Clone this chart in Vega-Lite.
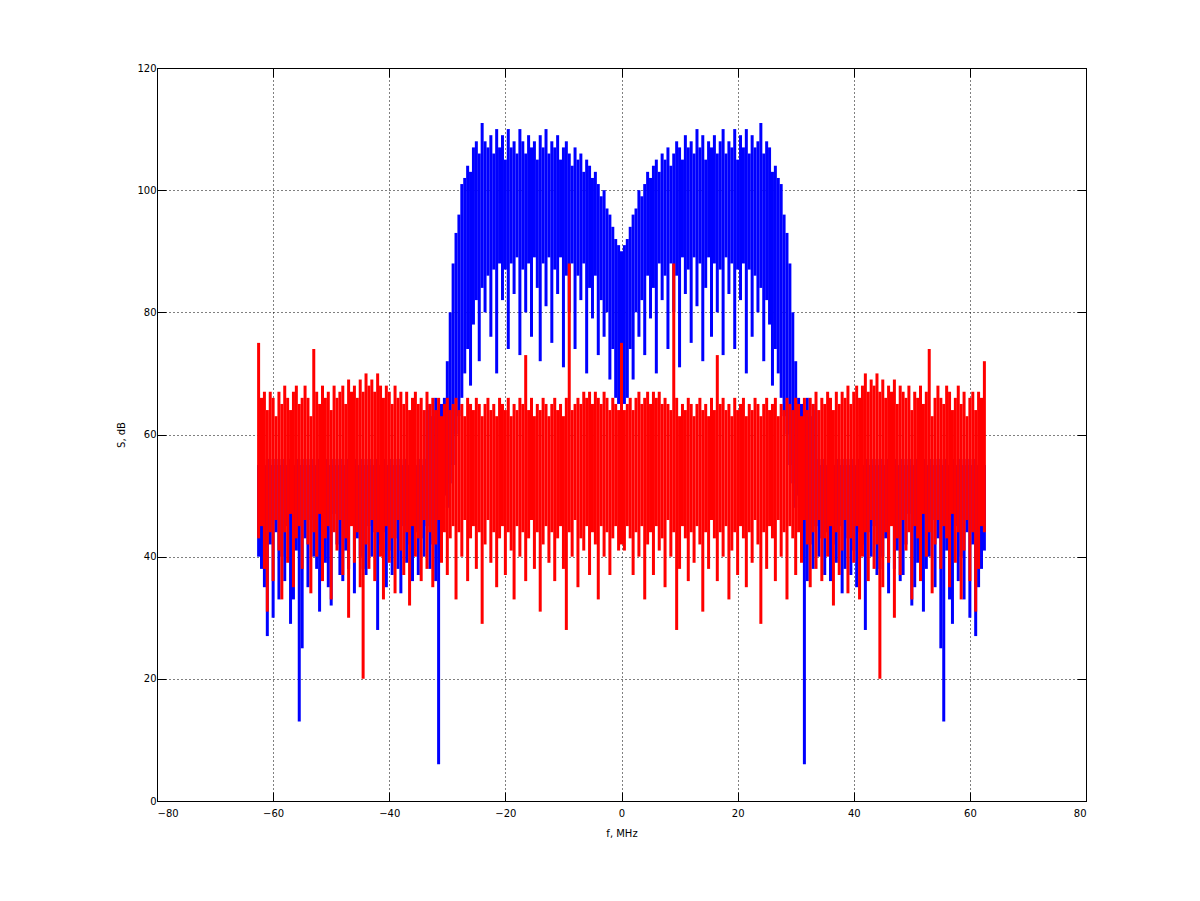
{
  "$schema": "https://vega.github.io/schema/vega-lite/v6.json",
  "width": 929,
  "height": 733,
  "autosize": {"type": "none"},
  "padding": {"left": 157, "top": 68, "right": 114, "bottom": 100},
  "background": "white",
  "datasets": {
    "blue": [
      {"x":-62.5,"l":40,"h":55},{"x":-62,"l":38,"h":56},{"x":-61.5,"l":35,"h":55},{"x":-61,"l":27,"h":56},{"x":-60.5,"l":42,"h":55},{"x":-60,"l":30,"h":56},{"x":-59.5,"l":44,"h":55},{"x":-59,"l":33,"h":56},{"x":-58.5,"l":40,"h":55},{"x":-58,"l":36,"h":56},
      {"x":-57.5,"l":45,"h":55},{"x":-57,"l":29,"h":56},{"x":-56.5,"l":33,"h":55},{"x":-56,"l":41,"h":56},{"x":-55.5,"l":13,"h":55},{"x":-55,"l":25,"h":56},{"x":-54.5,"l":43,"h":55},{"x":-54,"l":35,"h":56},{"x":-53.5,"l":46,"h":55},{"x":-53,"l":40,"h":56},
      {"x":-52.5,"l":38,"h":55},{"x":-52,"l":31,"h":56},{"x":-51.5,"l":44,"h":55},{"x":-51,"l":39,"h":56},{"x":-50.5,"l":35,"h":55},{"x":-50,"l":32,"h":56},{"x":-49.5,"l":47,"h":55},{"x":-49,"l":42,"h":56},{"x":-48.5,"l":37,"h":55},{"x":-48,"l":36,"h":56},
      {"x":-47.5,"l":41,"h":55},{"x":-47,"l":38,"h":56},{"x":-46.5,"l":46,"h":55},{"x":-46,"l":34,"h":56},{"x":-45.5,"l":43,"h":55},{"x":-45,"l":40,"h":56},{"x":-44.5,"l":38,"h":55},{"x":-44,"l":37,"h":56},{"x":-43.5,"l":45,"h":55},{"x":-43,"l":40,"h":56},
      {"x":-42.5,"l":44,"h":55},{"x":-42,"l":28,"h":56},{"x":-41.5,"l":42,"h":55},{"x":-41,"l":44,"h":56},{"x":-40.5,"l":35,"h":55},{"x":-40,"l":41,"h":56},{"x":-39.5,"l":37,"h":55},{"x":-39,"l":43,"h":56},{"x":-38.5,"l":38,"h":55},{"x":-38,"l":34,"h":56},
      {"x":-37.5,"l":45,"h":55},{"x":-37,"l":39,"h":56},{"x":-36.5,"l":42,"h":55},{"x":-36,"l":36,"h":56},{"x":-35.5,"l":44,"h":55},{"x":-35,"l":37,"h":56},{"x":-34.5,"l":43,"h":55},{"x":-34,"l":40,"h":56},{"x":-33.5,"l":45,"h":64},{"x":-33,"l":38,"h":65},
      {"x":-32.5,"l":42,"h":63},{"x":-32,"l":36,"h":66},{"x":-31.5,"l":6,"h":64},{"x":-31,"l":44,"h":65},{"x":-30.5,"l":50,"h":66},{"x":-30,"l":48,"h":72},{"x":-29.5,"l":52,"h":80},{"x":-29,"l":55,"h":88},{"x":-28.5,"l":60,"h":93},{"x":-28,"l":63,"h":96},
      {"x":-27.5,"l":66,"h":101},{"x":-27,"l":70,"h":102},{"x":-26.5,"l":74,"h":104},{"x":-26,"l":68,"h":103},{"x":-25.5,"l":78,"h":107},{"x":-25,"l":82,"h":108},{"x":-24.5,"l":72,"h":106},{"x":-24,"l":84,"h":111},{"x":-23.5,"l":80,"h":108},{"x":-23,"l":86,"h":107},
      {"x":-22.5,"l":76,"h":109},{"x":-22,"l":87,"h":106},{"x":-21.5,"l":70,"h":110},{"x":-21,"l":88,"h":107},{"x":-20.5,"l":82,"h":109},{"x":-20,"l":87,"h":105},{"x":-19.5,"l":74,"h":110},{"x":-19,"l":88,"h":107},{"x":-18.5,"l":83,"h":108},{"x":-18,"l":89,"h":106},
      {"x":-17.5,"l":73,"h":110},{"x":-17,"l":87,"h":108},{"x":-16.5,"l":80,"h":106},{"x":-16,"l":88,"h":109},{"x":-15.5,"l":76,"h":107},{"x":-15,"l":89,"h":108},{"x":-14.5,"l":84,"h":105},{"x":-14,"l":72,"h":109},{"x":-13.5,"l":88,"h":107},{"x":-13,"l":81,"h":110},
      {"x":-12.5,"l":89,"h":106},{"x":-12,"l":75,"h":108},{"x":-11.5,"l":87,"h":107},{"x":-11,"l":83,"h":109},{"x":-10.5,"l":89,"h":105},{"x":-10,"l":71,"h":107},{"x":-9.5,"l":86,"h":108},{"x":-9,"l":80,"h":106},{"x":-8.5,"l":88,"h":104},{"x":-8,"l":74,"h":107},
      {"x":-7.5,"l":86,"h":105},{"x":-7,"l":82,"h":106},{"x":-6.5,"l":88,"h":103},{"x":-6,"l":70,"h":105},{"x":-5.5,"l":84,"h":104},{"x":-5,"l":79,"h":102},{"x":-4.5,"l":86,"h":103},{"x":-4,"l":73,"h":101},{"x":-3.5,"l":82,"h":99},{"x":-3,"l":76,"h":100},
      {"x":-2.5,"l":80,"h":97},{"x":-2,"l":69,"h":96},{"x":-1.5,"l":74,"h":94},{"x":-1,"l":66,"h":92},{"x":-0.5,"l":65,"h":91},{"x":0,"l":66,"h":90},
      {"x":0.5,"l":65,"h":91},{"x":1,"l":66,"h":92},{"x":1.5,"l":74,"h":94},{"x":2,"l":69,"h":96},{"x":2.5,"l":80,"h":97},
      {"x":3,"l":76,"h":100},{"x":3.5,"l":82,"h":99},{"x":4,"l":73,"h":101},{"x":4.5,"l":86,"h":103},{"x":5,"l":79,"h":102},{"x":5.5,"l":84,"h":104},{"x":6,"l":70,"h":105},{"x":6.5,"l":88,"h":103},{"x":7,"l":82,"h":106},{"x":7.5,"l":86,"h":105},
      {"x":8,"l":74,"h":107},{"x":8.5,"l":88,"h":104},{"x":9,"l":80,"h":106},{"x":9.5,"l":86,"h":108},{"x":10,"l":71,"h":107},{"x":10.5,"l":89,"h":105},{"x":11,"l":83,"h":109},{"x":11.5,"l":87,"h":107},{"x":12,"l":75,"h":108},{"x":12.5,"l":89,"h":106},
      {"x":13,"l":81,"h":110},{"x":13.5,"l":88,"h":107},{"x":14,"l":72,"h":109},{"x":14.5,"l":84,"h":105},{"x":15,"l":89,"h":108},{"x":15.5,"l":76,"h":107},{"x":16,"l":88,"h":109},{"x":16.5,"l":80,"h":106},{"x":17,"l":87,"h":108},{"x":17.5,"l":73,"h":110},
      {"x":18,"l":89,"h":106},{"x":18.5,"l":83,"h":108},{"x":19,"l":88,"h":107},{"x":19.5,"l":74,"h":110},{"x":20,"l":87,"h":105},{"x":20.5,"l":82,"h":109},{"x":21,"l":88,"h":107},{"x":21.5,"l":70,"h":110},{"x":22,"l":87,"h":106},{"x":22.5,"l":76,"h":109},
      {"x":23,"l":86,"h":107},{"x":23.5,"l":80,"h":108},{"x":24,"l":84,"h":111},{"x":24.5,"l":72,"h":106},{"x":25,"l":82,"h":108},{"x":25.5,"l":78,"h":107},{"x":26,"l":68,"h":103},{"x":26.5,"l":74,"h":104},{"x":27,"l":70,"h":102},{"x":27.5,"l":66,"h":101},
      {"x":28,"l":63,"h":96},{"x":28.5,"l":60,"h":93},{"x":29,"l":55,"h":88},{"x":29.5,"l":52,"h":80},{"x":30,"l":48,"h":72},{"x":30.5,"l":50,"h":66},{"x":31,"l":44,"h":65},{"x":31.5,"l":6,"h":64},{"x":32,"l":36,"h":66},{"x":32.5,"l":42,"h":63},
      {"x":33,"l":38,"h":65},{"x":33.5,"l":45,"h":64},{"x":34,"l":40,"h":56},{"x":34.5,"l":43,"h":55},{"x":35,"l":37,"h":56},{"x":35.5,"l":44,"h":55},{"x":36,"l":36,"h":56},{"x":36.5,"l":42,"h":55},{"x":37,"l":39,"h":56},{"x":37.5,"l":45,"h":55},
      {"x":38,"l":34,"h":56},{"x":38.5,"l":38,"h":55},{"x":39,"l":43,"h":56},{"x":39.5,"l":37,"h":55},{"x":40,"l":41,"h":56},{"x":40.5,"l":35,"h":55},{"x":41,"l":44,"h":56},{"x":41.5,"l":42,"h":55},{"x":42,"l":28,"h":56},{"x":42.5,"l":44,"h":55},
      {"x":43,"l":40,"h":56},{"x":43.5,"l":45,"h":55},{"x":44,"l":37,"h":56},{"x":44.5,"l":38,"h":55},{"x":45,"l":40,"h":56},{"x":45.5,"l":43,"h":55},{"x":46,"l":34,"h":56},{"x":46.5,"l":46,"h":55},{"x":47,"l":38,"h":56},{"x":47.5,"l":41,"h":55},
      {"x":48,"l":36,"h":56},{"x":48.5,"l":37,"h":55},{"x":49,"l":42,"h":56},{"x":49.5,"l":47,"h":55},{"x":50,"l":32,"h":56},{"x":50.5,"l":35,"h":55},{"x":51,"l":39,"h":56},{"x":51.5,"l":44,"h":55},{"x":52,"l":31,"h":56},{"x":52.5,"l":38,"h":55},
      {"x":53,"l":40,"h":56},{"x":53.5,"l":46,"h":55},{"x":54,"l":35,"h":56},{"x":54.5,"l":43,"h":55},{"x":55,"l":25,"h":56},{"x":55.5,"l":13,"h":55},{"x":56,"l":41,"h":56},{"x":56.5,"l":33,"h":55},{"x":57,"l":29,"h":56},{"x":57.5,"l":45,"h":55},
      {"x":58,"l":36,"h":56},{"x":58.5,"l":40,"h":55},{"x":59,"l":33,"h":56},{"x":59.5,"l":44,"h":55},{"x":60,"l":30,"h":56},{"x":60.5,"l":42,"h":55},{"x":61,"l":27,"h":56},{"x":61.5,"l":35,"h":55},{"x":62,"l":38,"h":56},{"x":62.5,"l":41,"h":55}
    ],
    "red": [
      {"x":-62.5,"l":43,"h":75},{"x":-62,"l":45,"h":66},{"x":-61.5,"l":38,"h":67},{"x":-61,"l":31,"h":64},{"x":-60.5,"l":44,"h":67},{"x":-60,"l":36,"h":66},{"x":-59.5,"l":46,"h":63},{"x":-59,"l":41,"h":67},{"x":-58.5,"l":33,"h":65},{"x":-58,"l":44,"h":68},
      {"x":-57.5,"l":39,"h":66},{"x":-57,"l":47,"h":64},{"x":-56.5,"l":35,"h":67},{"x":-56,"l":43,"h":68},{"x":-55.5,"l":45,"h":65},{"x":-55,"l":38,"h":66},{"x":-54.5,"l":46,"h":68},{"x":-54,"l":42,"h":66},{"x":-53.5,"l":34,"h":63},{"x":-53,"l":44,"h":74},
      {"x":-52.5,"l":40,"h":67},{"x":-52,"l":47,"h":65},{"x":-51.5,"l":36,"h":68},{"x":-51,"l":43,"h":66},{"x":-50.5,"l":45,"h":67},{"x":-50,"l":33,"h":64},{"x":-49.5,"l":44,"h":68},{"x":-49,"l":41,"h":66},{"x":-48.5,"l":46,"h":67},{"x":-48,"l":37,"h":68},
      {"x":-47.5,"l":43,"h":65},{"x":-47,"l":30,"h":69},{"x":-46.5,"l":45,"h":67},{"x":-46,"l":39,"h":68},{"x":-45.5,"l":44,"h":66},{"x":-45,"l":35,"h":69},{"x":-44.5,"l":20,"h":67},{"x":-44,"l":42,"h":70},{"x":-43.5,"l":38,"h":68},{"x":-43,"l":46,"h":69},
      {"x":-42.5,"l":36,"h":67},{"x":-42,"l":44,"h":70},{"x":-41.5,"l":40,"h":68},{"x":-41,"l":33,"h":66},{"x":-40.5,"l":45,"h":68},{"x":-40,"l":39,"h":67},{"x":-39.5,"l":43,"h":65},{"x":-39,"l":34,"h":68},{"x":-38.5,"l":46,"h":66},{"x":-38,"l":41,"h":67},
      {"x":-37.5,"l":37,"h":65},{"x":-37,"l":44,"h":67},{"x":-36.5,"l":32,"h":64},{"x":-36,"l":45,"h":66},{"x":-35.5,"l":40,"h":67},{"x":-35,"l":43,"h":65},{"x":-34.5,"l":36,"h":66},{"x":-34,"l":46,"h":64},{"x":-33.5,"l":38,"h":67},{"x":-33,"l":44,"h":65},
      {"x":-32.5,"l":35,"h":66},{"x":-32,"l":42,"h":64},{"x":-31.5,"l":46,"h":66},{"x":-31,"l":39,"h":63},{"x":-30.5,"l":44,"h":65},{"x":-30,"l":37,"h":66},{"x":-29.5,"l":43,"h":64},{"x":-29,"l":45,"h":65},{"x":-28.5,"l":33,"h":66},{"x":-28,"l":44,"h":64},
      {"x":-27.5,"l":40,"h":65},{"x":-27,"l":46,"h":63},{"x":-26.5,"l":36,"h":66},{"x":-26,"l":43,"h":65},{"x":-25.5,"l":45,"h":64},{"x":-25,"l":38,"h":66},{"x":-24.5,"l":44,"h":65},{"x":-24,"l":29,"h":63},{"x":-23.5,"l":42,"h":65},{"x":-23,"l":46,"h":66},
      {"x":-22.5,"l":39,"h":64},{"x":-22,"l":44,"h":65},{"x":-21.5,"l":35,"h":63},{"x":-21,"l":43,"h":66},{"x":-20.5,"l":45,"h":65},{"x":-20,"l":37,"h":64},{"x":-19.5,"l":44,"h":66},{"x":-19,"l":41,"h":63},{"x":-18.5,"l":33,"h":65},{"x":-18,"l":45,"h":64},
      {"x":-17.5,"l":40,"h":66},{"x":-17,"l":44,"h":65},{"x":-16.5,"l":36,"h":73},{"x":-16,"l":43,"h":64},{"x":-15.5,"l":46,"h":66},{"x":-15,"l":38,"h":63},{"x":-14.5,"l":44,"h":65},{"x":-14,"l":31,"h":64},{"x":-13.5,"l":42,"h":66},{"x":-13,"l":45,"h":65},
      {"x":-12.5,"l":39,"h":63},{"x":-12,"l":44,"h":65},{"x":-11.5,"l":36,"h":66},{"x":-11,"l":43,"h":64},{"x":-10.5,"l":45,"h":65},{"x":-10,"l":38,"h":63},{"x":-9.5,"l":28,"h":66},{"x":-9,"l":44,"h":88},{"x":-8.5,"l":40,"h":64},{"x":-8,"l":46,"h":65},
      {"x":-7.5,"l":35,"h":66},{"x":-7,"l":43,"h":65},{"x":-6.5,"l":41,"h":67},{"x":-6,"l":45,"h":66},{"x":-5.5,"l":37,"h":67},{"x":-5,"l":44,"h":65},{"x":-4.5,"l":42,"h":67},{"x":-4,"l":33,"h":66},{"x":-3.5,"l":45,"h":65},{"x":-3,"l":40,"h":67},
      {"x":-2.5,"l":44,"h":66},{"x":-2,"l":37,"h":64},{"x":-1.5,"l":43,"h":66},{"x":-1,"l":45,"h":65},{"x":-0.5,"l":41,"h":64},{"x":0,"l":42,"h":75},
      {"x":0.5,"l":41,"h":64},{"x":1,"l":45,"h":65},{"x":1.5,"l":43,"h":66},{"x":2,"l":37,"h":64},{"x":2.5,"l":44,"h":66},
      {"x":3,"l":40,"h":67},{"x":3.5,"l":45,"h":65},{"x":4,"l":33,"h":66},{"x":4.5,"l":42,"h":67},{"x":5,"l":44,"h":65},{"x":5.5,"l":37,"h":67},{"x":6,"l":45,"h":66},{"x":6.5,"l":41,"h":67},{"x":7,"l":43,"h":65},{"x":7.5,"l":35,"h":66},
      {"x":8,"l":46,"h":65},{"x":8.5,"l":40,"h":64},{"x":9,"l":44,"h":88},{"x":9.5,"l":28,"h":66},{"x":10,"l":38,"h":63},{"x":10.5,"l":45,"h":65},{"x":11,"l":43,"h":64},{"x":11.5,"l":36,"h":66},{"x":12,"l":44,"h":65},{"x":12.5,"l":39,"h":63},
      {"x":13,"l":45,"h":65},{"x":13.5,"l":42,"h":66},{"x":14,"l":31,"h":64},{"x":14.5,"l":44,"h":65},{"x":15,"l":38,"h":63},{"x":15.5,"l":46,"h":66},{"x":16,"l":43,"h":64},{"x":16.5,"l":36,"h":73},{"x":17,"l":44,"h":65},{"x":17.5,"l":40,"h":66},
      {"x":18,"l":45,"h":64},{"x":18.5,"l":33,"h":65},{"x":19,"l":41,"h":63},{"x":19.5,"l":44,"h":66},{"x":20,"l":37,"h":64},{"x":20.5,"l":45,"h":65},{"x":21,"l":43,"h":66},{"x":21.5,"l":35,"h":63},{"x":22,"l":44,"h":65},{"x":22.5,"l":39,"h":64},
      {"x":23,"l":46,"h":66},{"x":23.5,"l":42,"h":65},{"x":24,"l":29,"h":63},{"x":24.5,"l":44,"h":65},{"x":25,"l":38,"h":66},{"x":25.5,"l":45,"h":64},{"x":26,"l":43,"h":65},{"x":26.5,"l":36,"h":66},{"x":27,"l":46,"h":63},{"x":27.5,"l":40,"h":65},
      {"x":28,"l":44,"h":64},{"x":28.5,"l":33,"h":66},{"x":29,"l":45,"h":65},{"x":29.5,"l":43,"h":64},{"x":30,"l":37,"h":66},{"x":30.5,"l":44,"h":65},{"x":31,"l":39,"h":63},{"x":31.5,"l":46,"h":66},{"x":32,"l":42,"h":64},{"x":32.5,"l":35,"h":66},
      {"x":33,"l":44,"h":65},{"x":33.5,"l":38,"h":67},{"x":34,"l":46,"h":64},{"x":34.5,"l":36,"h":66},{"x":35,"l":43,"h":65},{"x":35.5,"l":40,"h":67},{"x":36,"l":45,"h":66},{"x":36.5,"l":32,"h":64},{"x":37,"l":44,"h":67},{"x":37.5,"l":37,"h":65},
      {"x":38,"l":41,"h":67},{"x":38.5,"l":46,"h":66},{"x":39,"l":34,"h":68},{"x":39.5,"l":43,"h":65},{"x":40,"l":39,"h":67},{"x":40.5,"l":45,"h":68},{"x":41,"l":33,"h":66},{"x":41.5,"l":40,"h":68},{"x":42,"l":44,"h":70},{"x":42.5,"l":36,"h":67},
      {"x":43,"l":46,"h":69},{"x":43.5,"l":38,"h":68},{"x":44,"l":42,"h":70},{"x":44.5,"l":20,"h":67},{"x":45,"l":35,"h":69},{"x":45.5,"l":44,"h":66},{"x":46,"l":39,"h":68},{"x":46.5,"l":45,"h":67},{"x":47,"l":30,"h":69},{"x":47.5,"l":43,"h":65},
      {"x":48,"l":37,"h":68},{"x":48.5,"l":46,"h":67},{"x":49,"l":41,"h":66},{"x":49.5,"l":44,"h":68},{"x":50,"l":33,"h":64},{"x":50.5,"l":45,"h":67},{"x":51,"l":43,"h":66},{"x":51.5,"l":36,"h":68},{"x":52,"l":47,"h":65},{"x":52.5,"l":40,"h":67},
      {"x":53,"l":44,"h":74},{"x":53.5,"l":34,"h":63},{"x":54,"l":42,"h":66},{"x":54.5,"l":46,"h":68},{"x":55,"l":38,"h":66},{"x":55.5,"l":45,"h":65},{"x":56,"l":43,"h":68},{"x":56.5,"l":35,"h":67},{"x":57,"l":47,"h":64},{"x":57.5,"l":39,"h":66},
      {"x":58,"l":44,"h":68},{"x":58.5,"l":33,"h":65},{"x":59,"l":41,"h":67},{"x":59.5,"l":46,"h":63},{"x":60,"l":36,"h":66},{"x":60.5,"l":44,"h":67},{"x":61,"l":31,"h":64},{"x":61.5,"l":38,"h":67},{"x":62,"l":45,"h":66},{"x":62.5,"l":44,"h":72}
    ]
  },
  "layer": [
    {
      "data": {"name": "blue"},
      "mark": {"type": "rule", "color": "#0000ff", "strokeWidth": 3},
      "encoding": {
        "x": {
          "field": "x",
          "type": "quantitative",
          "scale": {"domain": [-80, 80], "nice": false, "zero": false},
          "axis": {
            "orient": "bottom",
            "values": [-80, -60, -40, -20, 0, 20, 40, 60, 80],
            "title": "f, MHz",
            "grid": true
          }
        },
        "y": {
          "field": "l",
          "type": "quantitative",
          "scale": {"domain": [0, 120], "nice": false},
          "axis": {
            "orient": "left",
            "values": [0, 20, 40, 60, 80, 100, 120],
            "title": "S, dB",
            "grid": true
          }
        },
        "y2": {"field": "h"}
      }
    },
    {
      "data": {"name": "red"},
      "mark": {"type": "rule", "color": "#ff0000", "strokeWidth": 3},
      "encoding": {
        "x": {
          "field": "x",
          "type": "quantitative",
          "axis": {
            "orient": "top",
            "values": [-80, -60, -40, -20, 0, 20, 40, 60, 80],
            "labels": false,
            "title": null,
            "grid": false
          }
        },
        "y": {
          "field": "l",
          "type": "quantitative",
          "axis": {
            "orient": "right",
            "values": [0, 20, 40, 60, 80, 100, 120],
            "labels": false,
            "title": null,
            "grid": false
          }
        },
        "y2": {"field": "h"}
      }
    }
  ],
  "resolve": {"axis": {"x": "independent", "y": "independent"}},
  "config": {
    "view": {"stroke": "#000000", "strokeWidth": 1},
    "axis": {
      "domain": false,
      "tickSize": -9,
      "tickColor": "#000000",
      "tickWidth": 1,
      "gridColor": "#000000",
      "gridDash": [1, 3],
      "gridOpacity": 1,
      "gridWidth": 1,
      "labelFont": "DejaVu Sans",
      "labelFontSize": 10,
      "labelColor": "#000000",
      "titleFont": "DejaVu Sans",
      "titleFontSize": 10,
      "titleFontWeight": "normal",
      "titleColor": "#000000"
    },
    "axisBottom": {"labelPadding": 16, "titlePadding": 10},
    "axisLeft": {"labelPadding": 10, "titlePadding": 10}
  }
}
